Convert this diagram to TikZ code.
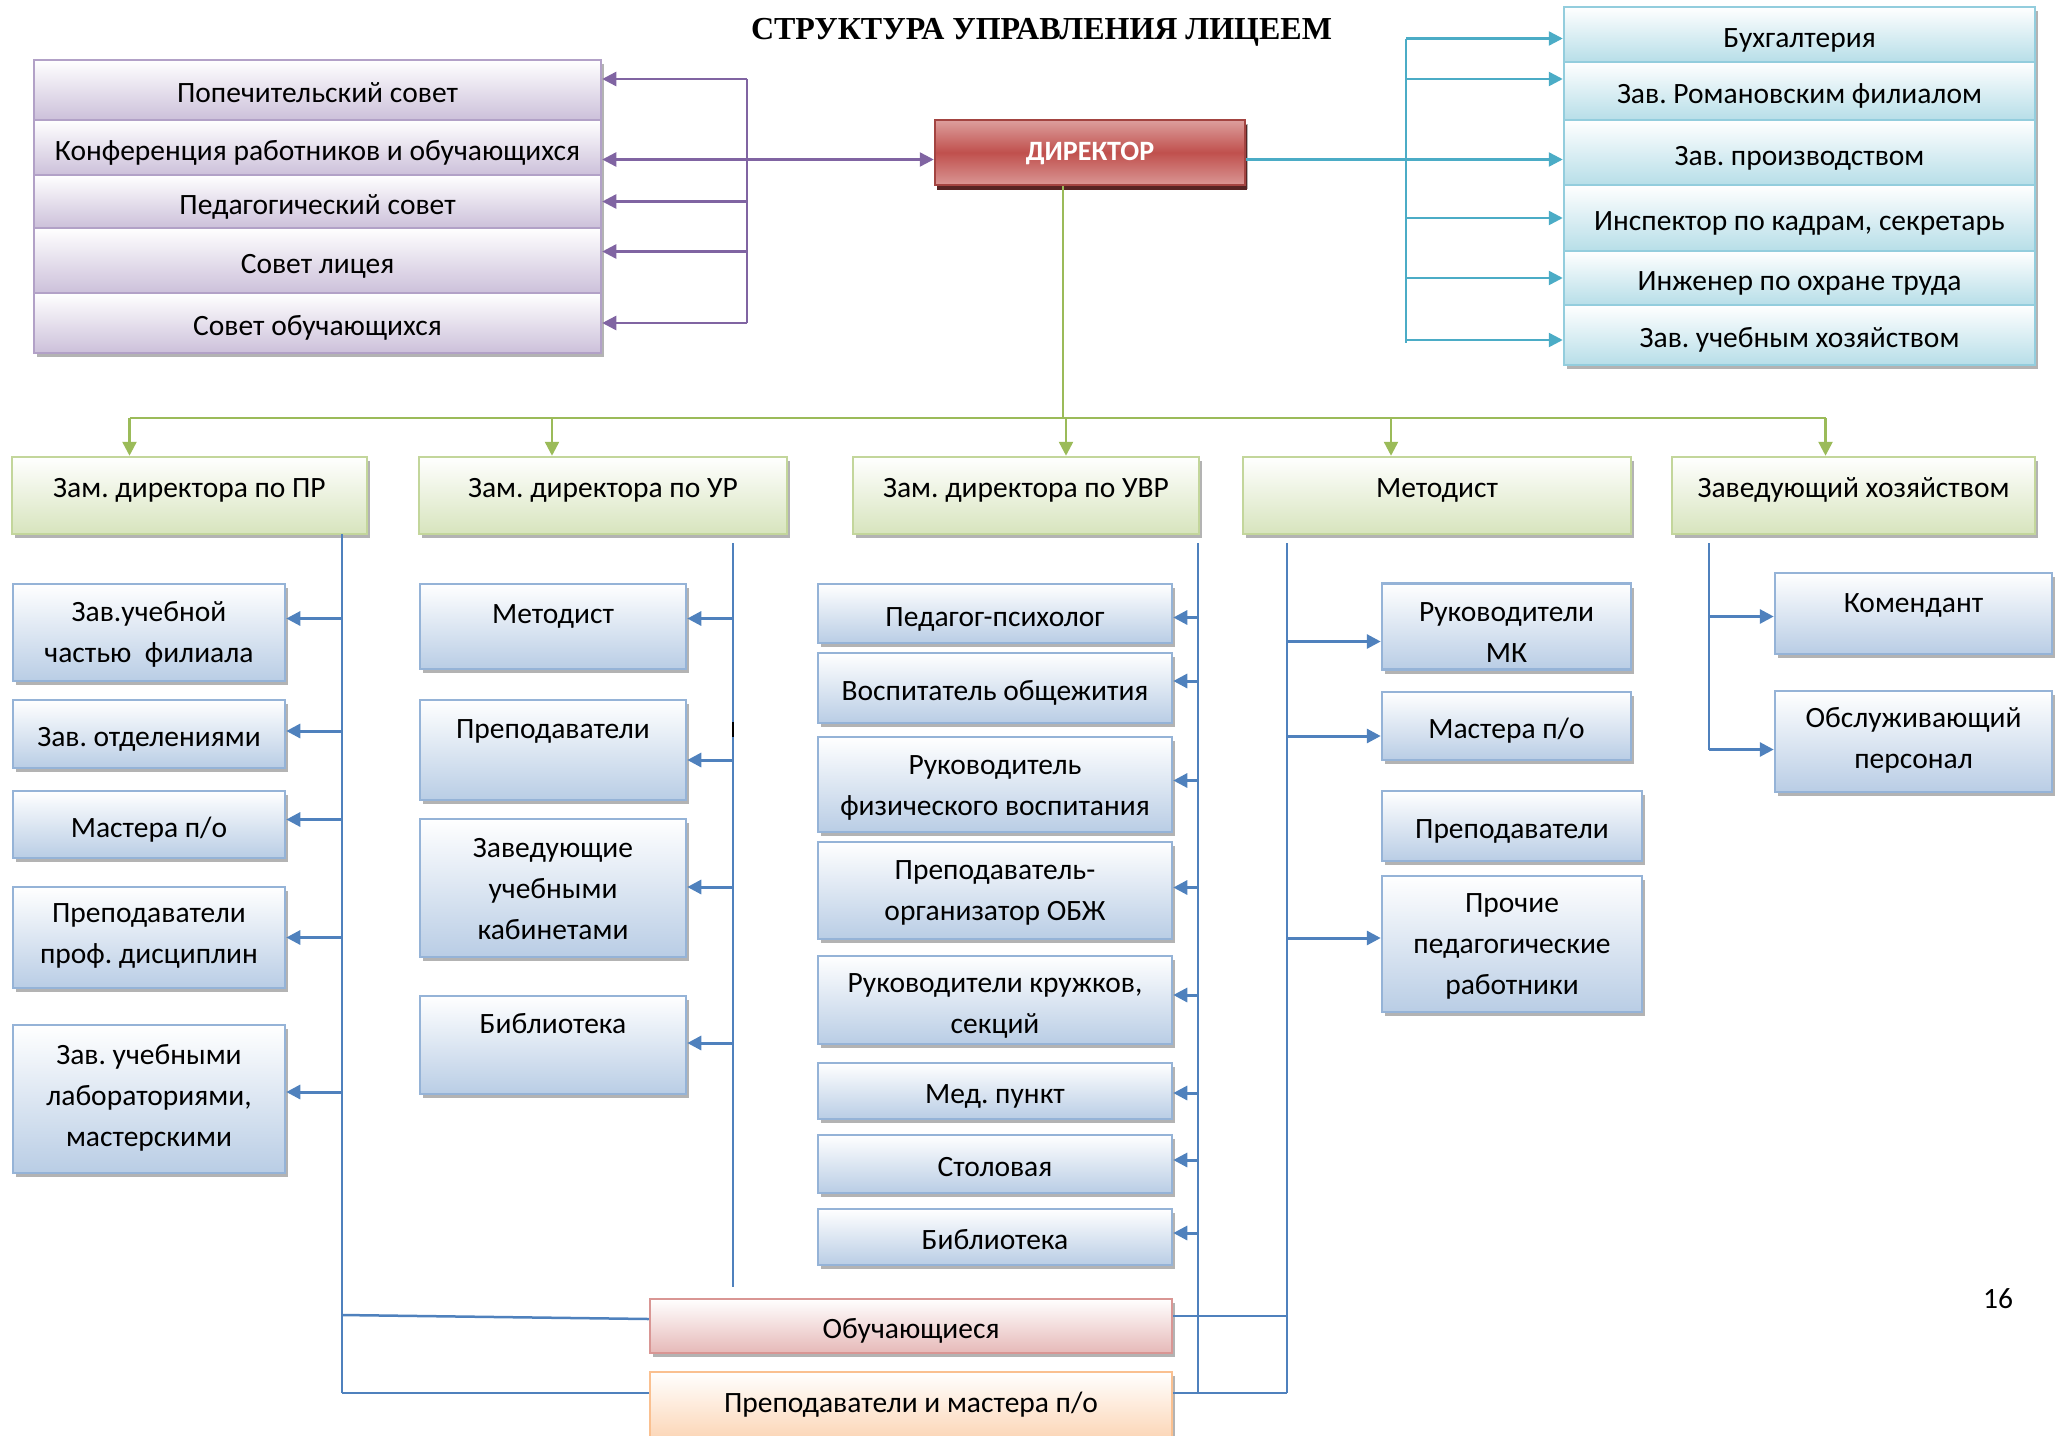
\documentclass[tikz,border=0pt]{standalone}
\usepackage{fontspec}
\setmainfont{Carlito}
\newfontfamily\titlefont{Liberation Serif}
\usetikzlibrary{arrows.meta,shadows}
\frenchspacing
\newcommand{\hstrut}[1]{\rule{0pt}{#1pt}}

\definecolor{lila}{HTML}{8064A2}
\definecolor{lilaline}{HTML}{B2A1C7}
\definecolor{lilafill}{HTML}{CCC0DA}
\definecolor{aqua}{HTML}{4BACC6}
\definecolor{aqualine}{HTML}{93CDDD}
\definecolor{aquafill}{HTML}{B7DEE8}
\definecolor{grn}{HTML}{9BBB59}
\definecolor{grnline}{HTML}{C3D69B}
\definecolor{grnfill}{HTML}{D7E4BD}
\definecolor{blu}{HTML}{4F81BD}
\definecolor{bluline}{HTML}{95B3D7}
\definecolor{blufill}{HTML}{B9CDE5}
\definecolor{rosline}{HTML}{D99694}
\definecolor{rosfill}{HTML}{E6B9B8}
\definecolor{peachline}{HTML}{FAC090}
\definecolor{peachfill}{HTML}{FCD5B5}
\definecolor{dirred}{HTML}{C0504D}

\begin{document}
\begin{tikzpicture}[x=1pt,y=-1pt,
  every node/.style={font=\fontsize{29.5}{41}\selectfont, align=center, inner sep=0pt,
    execute at begin node={\rule{0pt}{32pt}}, execute at end node={\rule[-7pt]{0pt}{7pt}}},
  wh/.style 2 args={minimum width=#1pt, minimum height=#2pt},
  lift/.style={text depth=#1pt},
  chartbox/.style={rectangle, line width=2.5pt,
    drop shadow={shadow xshift=3pt, shadow yshift=-4pt, fill=black!50, opacity=.6}},
  lilabox/.style={chartbox, draw=lilaline, top color=white, bottom color=lilafill},
  aquabox/.style={chartbox, draw=aqualine, top color=white, bottom color=aquafill},
  grnbox/.style={chartbox, draw=grnline, top color=white, bottom color=grnfill, lift=29},
  blubox/.style={chartbox, draw=bluline, top color=white, bottom color=blufill},
  rosbox/.style={chartbox, draw=rosline, top color=white, bottom color=rosfill},
  peachbox/.style={chartbox, draw=peachline, top color=white, bottom color=peachfill},
  dirbox/.style={chartbox, draw=dirred!85!black, top color=dirred!55, bottom color=dirred!60,
    middle color=dirred, text=white, font=\fontsize{28}{34}\selectfont\bfseries, lift=17,
    drop shadow={shadow xshift=2pt, shadow yshift=-5pt, fill=dirred!45!black, opacity=1}},
  tri/.style={-{Triangle[length=14pt,width=14pt]}},
  lilaln/.style={color=lila, line width=2.5pt},
  lilaarr/.style={lilaln, tri},
  lilaboth/.style={lilaln, {Triangle[length=14pt,width=14pt]}-{Triangle[length=14pt,width=14pt]}},
  aqualn/.style={color=aqua, line width=2.5pt},
  aquaarr/.style={aqualn, tri},
  grnln/.style={color=grn, line width=2.5pt},
  grnarr/.style={grnln, tri},
  bluln/.style={color=blu, line width=2pt},
  bluarr/.style={color=blu, line width=3pt, tri}]
\useasboundingbox (0,0) rectangle (2060,1435);

% title
\node[anchor=base, font=\titlefont\bfseries\fontsize{32}{38}\selectfont] (title) at (1041.5,39) {СТРУКТУРА УПРАВЛЕНИЯ ЛИЦЕЕМ};

% councils
\node[lilabox, wh={567}{60}] (pop) at (317.5,90) {Попечительский совет};
\node[lilabox, wh={567}{55}] (konf) at (317.5,147.5) {Конференция работников и обучающихся};
\node[lilabox, wh={567}{53}] (ped) at (317.5,201.5) {Педагогический совет};
\node[lilabox, wh={567}{65}] (sovl) at (317.5,260.5) {Совет лицея};
\node[lilabox, wh={567}{60}] (sovo) at (317.5,323) {Совет обучающихся};

% director
\node[dirbox, wh={310}{65}] (dir) at (1090,152.5) {ДИРЕКТОР};

% services
\node[aquabox, wh={471}{55}] (buh) at (1799.5,34.5) {Бухгалтерия};
\node[aquabox, wh={471}{58}] (rom) at (1799.5,91) {Зав. Романовским филиалом};
\node[aquabox, wh={471}{65}] (proizv) at (1799.5,152.5) {Зав. производством};
\node[aquabox, wh={471}{66}] (insp) at (1799.5,218) {Инспектор по кадрам, секретарь};
\node[aquabox, wh={471}{54}] (inzh) at (1799.5,278) {Инженер по охране труда};
\node[aquabox, wh={471}{60}] (uchh) at (1799.5,335) {Зав. учебным хозяйством};

% deputies
\node[grnbox, wh={355}{77}] (zpr) at (189.5,495.5) {Зам. директора по ПР};
\node[grnbox, wh={368}{77}] (zur) at (603,495.5) {Зам. директора по УР};
\node[grnbox, wh={346}{77}] (zuvr) at (1026,495.5) {Зам. директора по УВР};
\node[grnbox, wh={388}{77}] (met) at (1437,495.5) {Методист};
\node[grnbox, wh={363}{77}] (zhoz) at (1853.5,495.5) {Заведующий хозяйством};

% column 1
\node[blubox, wh={272}{97}] (c1a) at (149,632.5) {\hstrut{25}Зав.учебной\\частью\ \ филиала};
\node[blubox, wh={272}{68}] (c1b) at (149,734) {Зав. отделениями};
\node[blubox, wh={272}{67}] (c1c) at (149,824.5) {Мастера п/о};
\node[blubox, wh={272}{101}] (c1d) at (149,937.5) {Преподаватели\\проф. дисциплин};
\node[blubox, wh={272}{148}] (c1e) at (149,1099) {Зав. учебными\\лабораториями,\\мастерскими};

% column 2
\node[blubox, wh={266}{85}, lift=39] (c2a) at (553,626.5) {Методист};
\node[blubox, wh={266}{100}, lift=56] (c2b) at (553,750) {Преподаватели};
\node[blubox, wh={266}{138}] (c2c) at (553,888) {\hstrut{28}Заведующие\\учебными\\кабинетами};
\node[blubox, wh={266}{98}, lift=56] (c2d) at (553,1045) {Библиотека};

% column 3
\node[blubox, wh={354}{59}] (c3a) at (995,613.5) {Педагог-психолог};
\node[blubox, wh={354}{70}] (c3b) at (995,688) {Воспитатель общежития};
\node[blubox, wh={354}{95}] (c3c) at (995,784.5) {\hstrut{28}Руководитель\\физического воспитания};
\node[blubox, wh={354}{97}] (c3d) at (995,890.5) {\hstrut{25}Преподаватель-\\организатор ОБЖ};
\node[blubox, wh={354}{88}] (c3e) at (995,1000) {\hstrut{33}Руководители кружков,\\секций};
\node[blubox, wh={354}{56}] (c3f) at (995,1091) {Мед. пункт};
\node[blubox, wh={354}{58}] (c3g) at (995,1164) {Столовая};
\node[blubox, wh={354}{56}] (c3h) at (995,1237) {Библиотека};

% column 4
\node[blubox, wh={249}{85}] (c4a) at (1506.5,626.5) {\hstrut{38}Руководители\\МК};
\node[blubox, wh={249}{68}] (c4b) at (1506.5,726) {Мастера п/о};
\node[blubox, wh={260}{70}] (c4c) at (1512,826) {Преподаватели};
\node[blubox, wh={260}{136}] (c4d) at (1512,944) {\hstrut{25}Прочие\\педагогические\\работники};

% column 5
\node[blubox, wh={277}{81}, lift=35] (c5a) at (1913.5,613.5) {Комендант};
\node[blubox, wh={277}{101}] (c5b) at (1913.5,741.5) {Обслуживающий\\персонал};

% bottom
\node[rosbox, wh={522}{54}] (obuch) at (911,1326) {Обучающиеся};
\node[peachbox, wh={522}{68}, lift=20] (prep) at (911,1406) {Преподаватели и мастера п/о};

\node (pnum) at (1998,1295.5) {16};

% director links
\coordinate (lv) at (747,79);
\coordinate (lve) at (747,323);
\draw[lilaln] (lv) -- (lve);
\foreach \n/\d in {pop/11,ped/0,sovl/9,sovo/0}
  \draw[lilaarr] ([yshift=\d pt]lv |- \n.east) -- ([yshift=\d pt]\n.east);
\draw[lilaboth] ([yshift=-12pt]konf.east) -- ([yshift=-12pt]konf.east -| dir.west);

\coordinate (av) at (1406,39);
\coordinate (ave) at (1406,343);
\draw[aqualn] (av) -- (ave);
\foreach \n/\d in {buh/-4,rom/12,insp/0,inzh/0,uchh/-5}
  \draw[aquaarr] ([yshift=\d pt]av |- \n.west) -- ([yshift=\d pt]\n.west);
\draw[aquaarr] ([yshift=-7pt]dir.east) -- ([yshift=-7pt]proizv.west);

\coordinate (gbus) at (0,418);
\draw[grnln] ([xshift=-27pt]dir.south) -- ([xshift=-27pt]dir.south |- gbus);
\draw[grnln] ([xshift=-60pt]zpr.north |- gbus) -- ([xshift=-28pt]zhoz.north |- gbus);
\foreach \n/\d in {zpr/-60,zur/-51,zuvr/40,met/-46,zhoz/-28}
  \draw[grnarr] ([xshift=\d pt]\n.north |- gbus) -- ([xshift=\d pt]\n.north);

% columns
\coordinate (s1) at (342,534);
\coordinate (s1e) at (342,1393);
\coordinate (s2) at (733,543);
\coordinate (s2e) at (733,1287);
\coordinate (s3) at (1198,543);
\coordinate (s3e) at (1198,1393);
\coordinate (s4) at (1287,543);
\coordinate (s4e) at (1287,1393);
\coordinate (s5) at (1709,543);
\coordinate (s5e) at (1709,750);
\foreach \a/\b in {s1/s1e,s2/s2e,s3/s3e,s4/s4e,s5/s5e}
  \draw[bluln] (\a) -- (\b);
\draw[line width=2.5pt] (733,722) -- (733,737);

\foreach \n/\d in {c1a/14,c1b/3,c1c/5,c1d/0,c1e/7}
  \draw[bluarr] ([yshift=\d pt]s1 |- \n.east) -- ([yshift=\d pt]\n.east);
\foreach \n/\d in {c2a/8,c2b/-10,c2c/1,c2d/2}
  \draw[bluarr] ([yshift=\d pt]s2 |- \n.east) -- ([yshift=\d pt]\n.east);
\foreach \n/\d in {c3a/-4,c3b/7,c3c/4,c3d/3,c3e/5,c3f/-2,c3g/4,c3h/4}
  \draw[bluarr] ([yshift=\d pt]s3 |- \n.east) -- ([yshift=\d pt]\n.east);
\foreach \n/\d in {c4a/-15,c4b/-10,c4d/6}
  \draw[bluarr] ([yshift=\d pt]s4 |- \n.west) -- ([yshift=\d pt]\n.west);
\foreach \n/\d in {c5a/-3,c5b/-8}
  \draw[bluarr] ([yshift=\d pt]s5 |- \n.west) -- ([yshift=\d pt]\n.west);

\draw[bluln, line width=2.5pt] ([yshift=11pt]s1e |- obuch.west) -- ([yshift=7pt]obuch.west);
\draw[bluln, line width=2.5pt] (s1e) -- ([yshift=13pt]prep.west);
\draw[bluln, line width=2.5pt] ([yshift=10pt]obuch.east) -- ([yshift=10pt]obuch.east -| s4e);
\draw[bluln, line width=2.5pt] ([yshift=13pt]prep.east) -- (s4e);
\end{tikzpicture}
\end{document}
